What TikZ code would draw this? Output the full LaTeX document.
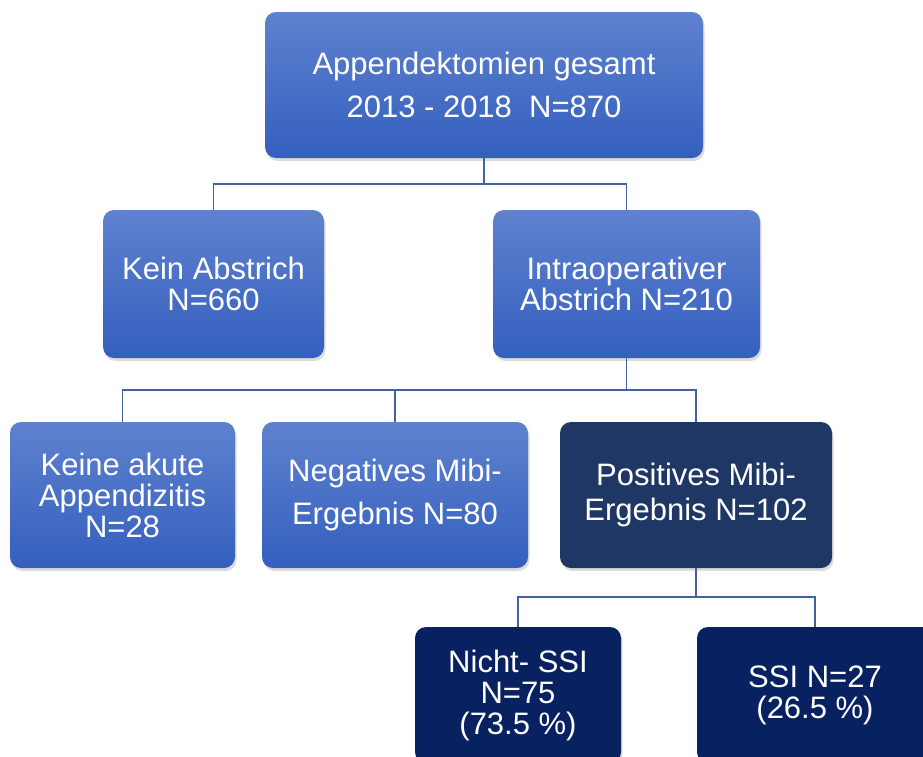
\documentclass[tikz,border=0pt]{standalone}
\usepackage{fontspec}
\setmainfont{Liberation Sans}
\usetikzlibrary{shadows}
\definecolor{btop}{RGB}{95,130,207}
\definecolor{bbot}{RGB}{52,95,190}
\definecolor{darkbox}{RGB}{31,55,100}
\definecolor{navybox}{RGB}{8,33,96}
\definecolor{conncol}{RGB}{68,98,158}
\tikzset{
  box/.style={rounded corners=11pt, align=center, text=white, inner sep=0pt,
    font=\fontsize{31}{31}\selectfont,
    drop shadow={opacity=0.28, shadow xshift=1.5pt, shadow yshift=-3pt}},
  lightbox/.style={box, top color=btop, bottom color=bbot},
  darkbx/.style={box, fill=darkbox},
  navybx/.style={box, fill=navybox},
  conn/.style={draw=conncol, line width=1.5pt}
}
\begin{document}
\begin{tikzpicture}[x=1pt,y=-1pt]
\useasboundingbox (0,0) rectangle (923,756);
\clip (0,0) rectangle (923,756);
\node[lightbox, minimum width=438pt, minimum height=146pt, font=\fontsize{31}{43}\selectfont] (top) at (484,85) {Appendektomien gesamt\\2013 - 2018\ \ N=870};
\node[lightbox, minimum width=221pt, minimum height=148pt] (kein) at (213.5,284) {Kein Abstrich\\N=660};
\node[lightbox, minimum width=267pt, minimum height=148pt] (intra) at (626.5,284) {Intraoperativer\\Abstrich N=210};
\node[lightbox, minimum width=225pt, minimum height=146pt] (keine) at (122.5,495) {Keine akute\\Appendizitis\\N=28};
\node[lightbox, minimum width=266pt, minimum height=146pt, font=\fontsize{31}{43}\selectfont] (neg) at (395,495) {Negatives Mibi-\\Ergebnis N=80};
\node[darkbx, minimum width=272pt, minimum height=146pt, font=\fontsize{31}{35}\selectfont] (pos) at (696,495) {Positives Mibi-\\Ergebnis N=102};
\node[navybx, minimum width=206pt, minimum height=136pt] (nicht) at (518,695) {Nicht- SSI\\N=75\\(73.5 \%)};
\node[navybx, minimum width=236pt, minimum height=136pt] (ssi) at (815,695) {SSI N=27\\(26.5 \%)};
\draw[conn] (top.south) -- ++(0,26) coordinate (j1) -| (kein.north);
\draw[conn] (j1) -| (intra.north);
\draw[conn] (intra.south) -- ++(0,32) coordinate (j2) -| (keine.north);
\draw[conn] (j2) -| (neg.north);
\draw[conn] (j2) -| (pos.north);
\draw[conn] (pos.south) -- ++(0,29) coordinate (j3) -| (nicht.north);
\draw[conn] (j3) -| (ssi.north);
\end{tikzpicture}
\end{document}
